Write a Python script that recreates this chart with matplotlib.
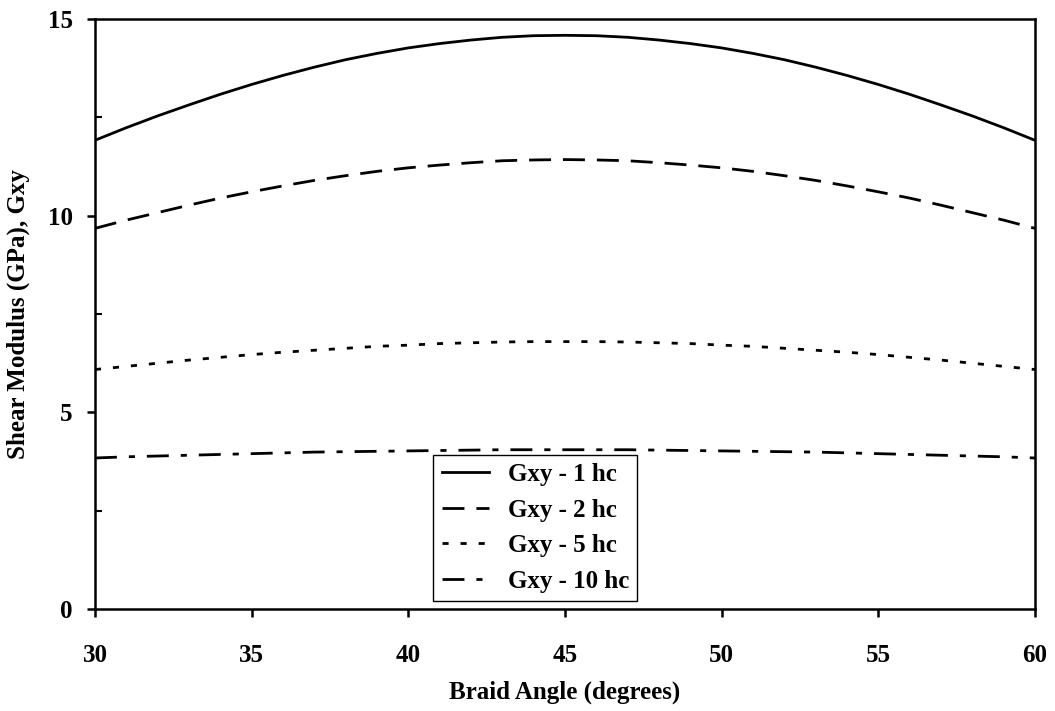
import matplotlib
matplotlib.use("Agg")
import matplotlib.pyplot as plt
from matplotlib.ticker import MultipleLocator

# braid angle (degrees)
angle = list(range(30, 61))

# shear modulus Gxy (GPa)
g_1hc = [11.92, 12.24, 12.54, 12.82, 13.09, 13.34, 13.57, 13.78, 13.97, 14.13, 14.27,
         14.38, 14.47, 14.54, 14.58, 14.59, 14.58, 14.54, 14.47, 14.38, 14.27,
         14.13, 13.97, 13.78, 13.57, 13.34, 13.09, 12.82, 12.54, 12.24, 11.92]
g_2hc = [9.68, 9.89, 10.08, 10.27, 10.45, 10.61, 10.76, 10.90, 11.02, 11.13, 11.22,
         11.29, 11.35, 11.40, 11.42, 11.43, 11.42, 11.40, 11.35, 11.29, 11.22,
         11.13, 11.02, 10.90, 10.76, 10.61, 10.45, 10.27, 10.08, 9.89, 9.68]
g_5hc = [6.09, 6.17, 6.25, 6.33, 6.40, 6.47, 6.53, 6.58, 6.63, 6.68, 6.71,
         6.75, 6.77, 6.79, 6.80, 6.80, 6.80, 6.79, 6.77, 6.75, 6.71,
         6.68, 6.63, 6.58, 6.53, 6.47, 6.40, 6.33, 6.25, 6.17, 6.09]
g_10hc = [3.84, 3.87, 3.89, 3.91, 3.93, 3.95, 3.97, 3.99, 4.00, 4.01, 4.02,
          4.03, 4.04, 4.05, 4.05, 4.05, 4.05, 4.05, 4.04, 4.03, 4.02,
          4.01, 4.00, 3.99, 3.97, 3.95, 3.93, 3.91, 3.89, 3.87, 3.84]

labels = ['Gxy - 1 hc', 'Gxy - 2 hc', 'Gxy - 5 hc', 'Gxy - 10 hc']

plt.rcParams['font.family'] = ['Liberation Serif', 'DejaVu Serif']
plt.rcParams['font.weight'] = 'bold'

fig = plt.figure(figsize=(10.55, 7.11), dpi=100)
ax = fig.add_axes([0.090, 0.1435, 0.891, 0.8295])

lw = 2.0
ax.plot(angle, g_1hc, color='black', lw=lw, linestyle='-', label=labels[0])
ax.plot(angle, g_2hc, color='black', lw=lw, linestyle=(0, (7.9, 4.3)), label=labels[1])
ax.plot(angle, g_5hc, color='black', lw=lw, linestyle=(0, (2.2, 4.3)), label=labels[2])
ax.plot(angle, g_10hc, color='black', lw=lw, linestyle=(0, (7.9, 4.3, 2.2, 4.3)), label=labels[3])

ax.set_xlim(30, 60)
ax.set_ylim(0, 15)
ax.xaxis.set_major_locator(MultipleLocator(5))
ax.yaxis.set_major_locator(MultipleLocator(5))
ax.yaxis.set_minor_locator(MultipleLocator(2.5))

for s in ax.spines.values():
    s.set_linewidth(1.8)

ax.tick_params(axis='x', which='major', direction='out', length=6, width=1.8,
               labelsize=18, pad=19)
ax.tick_params(axis='y', which='major', direction='out', length=6, width=1.8,
               labelsize=18, pad=10)
ax.tick_params(axis='y', which='minor', direction='in', length=5, width=1.5)

ax.set_xlabel('Braid Angle (degrees)', fontsize=18, fontweight='bold', labelpad=10)
ax.set_ylabel('Shear Modulus (GPa), Gxy', fontsize=18, fontweight='bold', labelpad=13)

leg = ax.legend(loc='lower left', bbox_to_anchor=(0.36, 0.0136), borderaxespad=0,
                fancybox=False, edgecolor='black', framealpha=1,
                prop={'family': 'Liberation Serif', 'weight': 'bold', 'size': 18},
                handlelength=1.9, handletextpad=0.75, labelspacing=0.5,
                borderpad=0.33)
leg.get_frame().set_linewidth(1.0)

fig.savefig('out.png', dpi=100)
plt.close(fig)
